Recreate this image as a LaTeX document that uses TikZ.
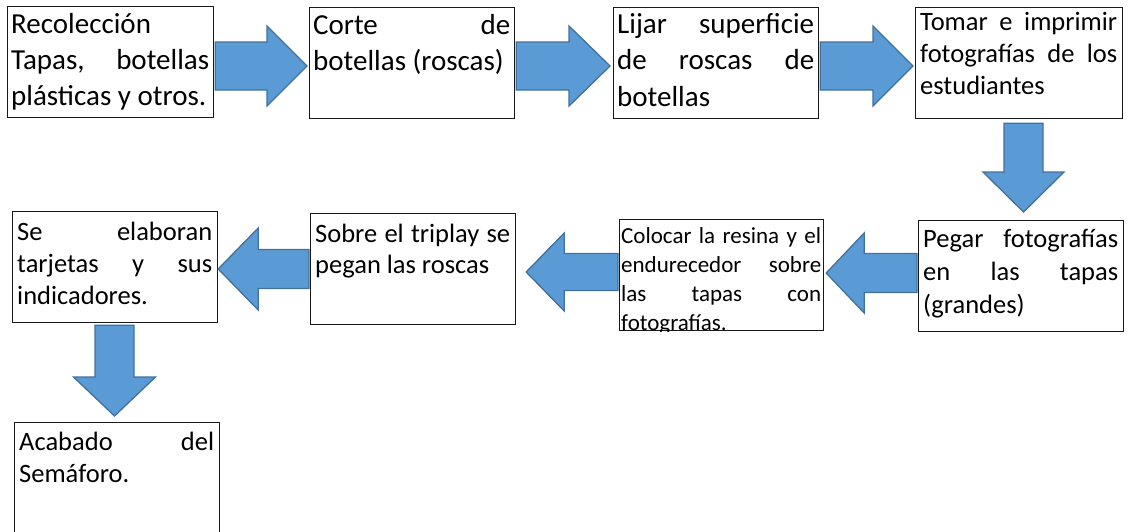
\documentclass[tikz,border=0pt]{standalone}
\usepackage{fontspec}
\setmainfont{Carlito}
\usetikzlibrary{calc}
\definecolor{arrfill}{HTML}{5B9BD5}
\definecolor{arrline}{HTML}{41719C}
\tikzset{
  box/.style={draw=black!90, line width=1.2pt, inner sep=0pt, anchor=north west},
  blockarrow/.style={fill=arrfill, draw=arrline, line width=1.3pt, line join=miter},
  txt/.style={inner sep=0pt, anchor=base west, text=black},
}
\newcommand{\jl}[1]{\makebox[\hsize][s]{#1}\par}
\newcommand{\nl}[1]{\mbox{#1}\par}
\newcommand{\tblock}[4]{\vtop{\hsize=#1\parindent=0pt\parskip=0pt\fontsize{#2}{#3}\selectfont #4}}
% right block arrow: from, to, center y, shaft half, head half, head length, gap
\newcommand{\arrR}[7]{%
  \pgfmathsetmacro\arya{#3-#4}\pgfmathsetmacro\aryb{#3+#4}%
  \pgfmathsetmacro\aryc{#3-#5}\pgfmathsetmacro\aryd{#3+#5}%
  \pgfmathsetmacro\arrdx{-(#6)-(#7)}%
  \filldraw[blockarrow] ($(#1.east |- 0,\arya)+(1,0)$) -- ($(#2.west |- 0,\arya)+(\arrdx,0)$)
    -- ($(#2.west |- 0,\aryc)+(\arrdx,0)$) -- ($(#2.west |- 0,#3)+(-#7,0)$)
    -- ($(#2.west |- 0,\aryd)+(\arrdx,0)$) -- ($(#2.west |- 0,\aryb)+(\arrdx,0)$)
    -- ($(#1.east |- 0,\aryb)+(1,0)$) -- cycle;}
% left block arrow: from (right box), to (left box), center y, shaft half, head half, head length, gap
\newcommand{\arrL}[7]{%
  \pgfmathsetmacro\arya{#3-#4}\pgfmathsetmacro\aryb{#3+#4}%
  \pgfmathsetmacro\aryc{#3-#5}\pgfmathsetmacro\aryd{#3+#5}%
  \pgfmathsetmacro\arrdx{(#6)+(#7)}%
  \filldraw[blockarrow] ($(#1.west |- 0,\arya)+(-1,0)$) -- ($(#2.east |- 0,\arya)+(\arrdx,0)$)
    -- ($(#2.east |- 0,\aryc)+(\arrdx,0)$) -- ($(#2.east |- 0,#3)+(#7,0)$)
    -- ($(#2.east |- 0,\aryd)+(\arrdx,0)$) -- ($(#2.east |- 0,\aryb)+(\arrdx,0)$)
    -- ($(#1.west |- 0,\aryb)+(-1,0)$) -- cycle;}
% down block arrow: from, to, center x, shaft half, head half, head length, gap top, gap bottom
\newcommand{\arrD}[8]{%
  \pgfmathsetmacro\arxa{#3-#4}\pgfmathsetmacro\arxb{#3+#4}%
  \pgfmathsetmacro\arxc{#3-#5}\pgfmathsetmacro\arxd{#3+#5}%
  \pgfmathsetmacro\arrdy{-(#6)-(#8)}%
  \filldraw[blockarrow] ($(\arxa,0 |- #1.south)+(0,#7)$) -- ($(\arxa,0 |- #2.north)+(0,\arrdy)$)
    -- ($(\arxc,0 |- #2.north)+(0,\arrdy)$) -- ($(#3,0 |- #2.north)+(0,-#8)$)
    -- ($(\arxd,0 |- #2.north)+(0,\arrdy)$) -- ($(\arxb,0 |- #2.north)+(0,\arrdy)$)
    -- ($(\arxb,0 |- #1.south)+(0,#7)$) -- cycle;}
\begin{document}
\begin{tikzpicture}[x=1pt,y=-1pt]
\clip (0,0) rectangle (1128,531);
\fill[white] (0,0) rectangle (1128,531);

% boxes
\node[box, minimum width=206, minimum height=111] (b1) at (7,6) {};
\node[box, minimum width=205, minimum height=111] (b2) at (309,7) {};
\node[box, minimum width=205, minimum height=111] (b3) at (613,7) {};
\node[box, minimum width=207, minimum height=111] (b4) at (915,7) {};
\node[box, minimum width=205, minimum height=111] (b5) at (918,220) {};
\node[box, minimum width=204, minimum height=111] (b6) at (619,219) {};
\node[box, minimum width=205, minimum height=111] (b7) at (310,213) {};
\node[box, minimum width=205, minimum height=111] (b8) at (12,211) {};
\node[box, minimum width=205, minimum height=140] (b9) at (14,422) {};

% texts
\node[txt] (t1) at (11,33) {\tblock{198pt}{29pt}{36pt}{\nl{Recolección}\jl{Tapas, botellas}\nl{plásticas y otros.}}};
\node[txt] (t2) at (313,34) {\tblock{197pt}{29pt}{36pt}{\jl{Corte de}\nl{botellas (roscas)}}};
\node[txt] (t3) at (617,33) {\tblock{197pt}{29pt}{36.5pt}{\jl{Lijar superficie}\jl{de roscas de}\nl{botellas}}};
\node[txt] (t4) at (920,30) {\tblock{197pt}{26.5pt}{32pt}{\jl{Tomar e imprimir}\jl{fotografías de los}\nl{estudiantes}}};
\node[txt] (t5) at (923,247) {\tblock{195pt}{26.5pt}{33pt}{\jl{Pegar fotografías}\jl{en las tapas}\nl{(grandes)}}};
\begin{scope}
\clip (b6.north west) rectangle (b6.south east);
\node[txt] (t6) at (621,243) {\tblock{200pt}{23pt}{29pt}{\jl{Colocar la resina y el}\jl{endurecedor sobre}\jl{las tapas con}\nl{fotografías.}}};
\end{scope}
\node[txt] (t7) at (315,242) {\tblock{195pt}{26.5pt}{31pt}{\jl{Sobre el triplay se}\nl{pegan las roscas}}};
\node[txt] (t8) at (17,240) {\tblock{195pt}{26.5pt}{32pt}{\jl{Se elaboran}\jl{tarjetas y sus}\nl{indicadores.}}};
\node[txt] (t9) at (19,450) {\tblock{195pt}{26.5pt}{32pt}{\jl{Acabado del}\nl{Semáforo.}}};

% block arrows
\arrR{b1}{b2}{66}{24}{40}{40}{2}
\arrR{b2}{b3}{66}{24}{40}{41}{3}
\arrR{b3}{b4}{66}{24}{40}{40}{2}
\arrD{b4}{b5}{1023.5}{19.5}{40.5}{40}{4}{8}
\arrL{b5}{b6}{273}{19.5}{40}{38}{2}
\arrL{b6}{b7}{272}{18.5}{39}{38}{10}
\arrL{b7}{b8}{269}{19.5}{41}{40}{0}
\arrD{b8}{b9}{114.5}{19.5}{41}{39}{2}{6}
\end{tikzpicture}
\end{document}
